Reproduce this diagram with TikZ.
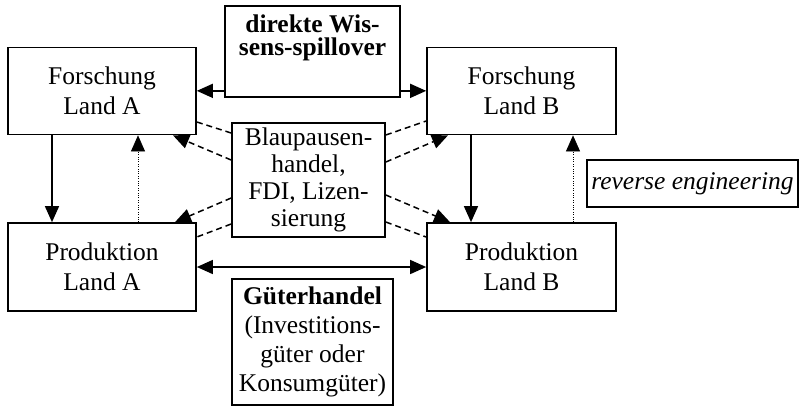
\documentclass[tikz,border=0pt]{standalone}
\usepackage{fontspec}
\setmainfont{Liberation Serif}
\usetikzlibrary{arrows.meta}
\tikzset{
  box/.style={draw, line width=1.7pt, inner sep=1pt, align=center, font=\fontsize{25.5}{30}\selectfont},
  lbl/.style={inner sep=0pt, align=center},
  arr/.style={-{Triangle[length=16pt,width=14pt]}, line width=1.5pt},
  darr/.style={{Triangle[length=16pt,width=14pt]}-{Triangle[length=16pt,width=14pt]}, line width=1.5pt},
  dsh/.style={line width=1.5pt, dash pattern=on 6pt off 4pt},
  dsharr/.style={dsh, -{Triangle[length=16pt,width=14pt]}},
  dtarr/.style={line width=0.7pt, dash pattern=on 0.8pt off 1.6pt, -{Triangle[length=16pt,width=14pt]}},
}
\begin{document}
\begin{tikzpicture}[x=1pt,y=-1pt]
\useasboundingbox (0,0) rectangle (799,408);
% corner boxes
\node[box, minimum width=188pt, minimum height=87pt] (fa) at (102,91) {Forschung\\Land A};
\node[box, minimum width=189pt, minimum height=87pt] (fb) at (521.5,91) {Forschung\\Land B};
\node[box, minimum width=188pt, minimum height=88pt] (pa) at (102,267) {Produktion\\Land A};
\node[box, minimum width=189pt, minimum height=88pt] (pb) at (521.5,267) {Produktion\\Land B};
% direkte Wissens-spillover
\node[box, minimum width=175pt, minimum height=91pt] (dws) at (312.5,51.5) {};
\node[lbl, anchor=north, font=\fontsize{25.5}{23}\selectfont\bfseries] (dwst) at (312.5,15) {direkte Wis-\\sens-spillover};
% Blaupausen
\node[box, minimum width=153pt, minimum height=114pt, font=\fontsize{25.5}{27}\selectfont] (bp) at (308.5,180) {Blaupausen-\\handel,\\FDI, Lizen-\\sierung};
% Gueterhandel
\node[box, minimum width=161pt, minimum height=126pt, font=\fontsize{25.5}{29}\selectfont] (gh) at (312.5,342) {\textbf{Güterhandel}\\(Investitions-\\güter oder\\Konsumgüter)};
% reverse engineering
\node[box, minimum width=211pt, minimum height=47pt, font=\fontsize{25.5}{30}\selectfont\itshape] (re) at (692.5,183.5) {reverse engineering};
% horizontal arrows
\draw[arr] ([yshift=7pt]dws.south west) coordinate (d1) -- (d1 -| fa.east);
\draw[arr] ([yshift=7pt]dws.south east) coordinate (d2) -- (d2 -| fb.west);
\draw[darr] (pa.east) -- (pb.west);
% vertical arrows
\draw[arr] ([xshift=-50pt]fa.south) coordinate (v1) -- (v1 |- pa.north);
\draw[dtarr] ([xshift=36pt]pa.north) coordinate (v2) -- (v2 |- fa.south);
\draw[arr] ([xshift=-50.5pt]fb.south) coordinate (v3) -- (v3 |- pb.north);
\draw[dtarr] ([xshift=51.5pt]pb.north) coordinate (v4) -- (v4 |- fb.south);
% dashed lines
\draw[dsh] ([yshift=47pt]bp.west) -- ([yshift=-31pt]fa.east);
\draw[dsharr] ([yshift=20pt]bp.west) -- ([xshift=71pt]fa.south);
\draw[dsharr] ([yshift=-18pt]bp.west) -- ([xshift=73pt]pa.north);
\draw[dsh] ([yshift=-44pt]bp.west) -- ([yshift=30pt]pa.east);
\draw[dsh] ([yshift=45pt]bp.east) -- ([yshift=-30pt]fb.west);
\draw[dsharr] ([yshift=18pt]bp.east) -- ([xshift=-73.5pt]fb.south);
\draw[dsharr] ([yshift=-15pt]bp.east) -- ([xshift=-71.5pt]pb.north);
\draw[dsh] ([yshift=-42pt]bp.east) -- ([yshift=30pt]pb.west);
\end{tikzpicture}
\end{document}
